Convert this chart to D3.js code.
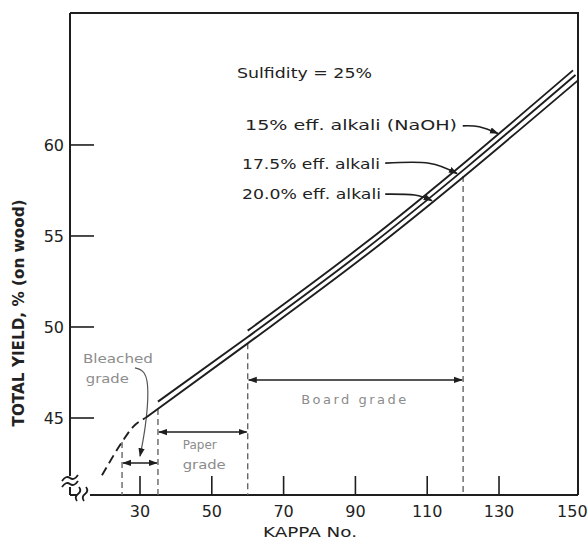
<!DOCTYPE html>
<html>
<head>
<meta charset="utf-8">
<script src="https://cdn.jsdelivr.net/npm/d3@7/dist/d3.min.js"></script>
<style>
  html, body { margin: 0; padding: 0; background: #ffffff; }
  svg { display: block; }
  text { font-family: "DejaVu Sans", "Liberation Sans", sans-serif; fill: #222; }
</style>
</head>
<body>
<svg id="chart" width="588" height="540"></svg>
<script>
// ---------- data ----------
const kappaTicks = [30, 50, 70, 90, 110, 130, 150];
const yieldTicks = [45, 50, 55, 60];

// 20.0 % effective alkali
const kappa20 = [31.5, 60, 92, 152];
const yield20 = [45.0, 49.1, 53.8, 63.55];
// 17.5 % effective alkali
const kappa175 = [35, 60, 92, 151.3];
const yield175 = [45.9, 49.45, 54.15, 63.85];
// 15 % effective alkali (NaOH)
const kappa15 = [60, 92, 150.6];
const yield15 = [49.8, 54.5, 64.1];
// dashed extrapolation below kappa 31
const kappaExt = [19.4, 25, 28, 31.5];
const yieldExt = [41.85, 43.68, 44.5, 45.0];

// grade boundaries (vertical dashed guides) and their top yields
const guideKappa = [25, 35, 60, 120];
const guideTop = [43.68, 45.5, 49.1, 58.3];

// grade ranges
const gradeNames = ["Bleached grade", "Paper grade", "Board grade"];
const gradeFrom = [25, 35, 60];
const gradeTo = [35, 60, 120];
const gradeLevel = [42.53, 44.23, 47.09];

const seriesLabels = ["15% eff. alkali (NaOH)", "17.5% eff. alkali", "20.0% eff. alkali"];
const titleText = "Sulfidity = 25%";

// ---------- scales ----------
const pL = 70, pR = 578, pT = 13, pB = 495;
const x = d3.scaleLinear().domain([10.5, 152]).range([pL, pR]);
const y = d3.scaleLinear().domain([40.77, 67.25]).range([pB, pT]);

const svg = d3.select("#chart");
const ink = "#1e1e1e";

// markers
const defs = svg.append("defs");
defs.append("marker").attr("id", "ah").attr("viewBox", "0 0 10 10")
  .attr("refX", 9).attr("refY", 5).attr("markerWidth", 9).attr("markerHeight", 9)
  .attr("markerUnits", "userSpaceOnUse").attr("orient", "auto-start-reverse")
  .append("path").attr("d", "M0,1.5 L10,5 L0,8.5 Z").attr("fill", ink);

// ---------- frame & axes ----------
const g = svg.append("g");
g.append("path").attr("d", `M${pL},${pT} L${pR},${pT} L${pR},${pB}`)
  .attr("fill", "none").attr("stroke", ink).attr("stroke-width", 2);
g.append("line").attr("x1", pL).attr("x2", pL).attr("y1", pT).attr("y2", pB - 19)
  .attr("stroke", ink).attr("stroke-width", 2);
g.append("line").attr("x1", pL).attr("x2", pL).attr("y1", pB - 8).attr("y2", pB)
  .attr("stroke", ink).attr("stroke-width", 2);
g.append("line").attr("x1", pL).attr("x2", pL + 7).attr("y1", pB).attr("y2", pB)
  .attr("stroke", ink).attr("stroke-width", 2);
g.append("line").attr("x1", pL + 20).attr("x2", pR).attr("y1", pB).attr("y2", pB)
  .attr("stroke", ink).attr("stroke-width", 2);
// break squiggles
[pB - 17, pB - 11].forEach(cy => {
  g.append("path").attr("d", `M${pL - 8},${cy + 3} q4,-6 8,-3 q4,3 8,-3`)
    .attr("fill", "none").attr("stroke", ink).attr("stroke-width", 1.8);
});
[pL + 10, pL + 17].forEach(cx => {
  g.append("path").attr("d", `M${cx - 3},${pB + 6} q-3,-4 1,-7 q4,-3 1,-7`)
    .attr("fill", "none").attr("stroke", ink).attr("stroke-width", 1.8);
});

// ticks (inward)
g.selectAll(".xt").data(kappaTicks.filter(k => k < 150)).join("line")
  .attr("x1", d => x(d)).attr("x2", d => x(d)).attr("y1", pB).attr("y2", pB - 19)
  .attr("stroke", ink).attr("stroke-width", 1.6);
g.selectAll(".yt").data(yieldTicks).join("line")
  .attr("x1", pL).attr("x2", pL + 24).attr("y1", d => y(d)).attr("y2", d => y(d))
  .attr("stroke", ink).attr("stroke-width", 1.6);

// tick labels
g.selectAll(".xl").data(kappaTicks).join("text")
  .attr("x", d => x(d) + (d === 150 ? 1.5 : 0)).attr("y", pB + 22)
  .attr("text-anchor", "middle").attr("font-size", 16).text(d => d);
g.selectAll(".yl").data(yieldTicks).join("text")
  .attr("x", pL - 6).attr("y", d => y(d) + 6)
  .attr("text-anchor", "end").attr("font-size", 16).text(d => d);

// axis titles
g.append("text").attr("x", 310).attr("y", 537).attr("text-anchor", "middle")
  .attr("font-size", 14).attr("textLength", 94).attr("lengthAdjust", "spacingAndGlyphs")
  .text("KAPPA No.");
g.append("text").attr("transform", "translate(24,313) rotate(-90)").attr("text-anchor", "middle")
  .attr("font-size", 15).attr("font-weight", "bold").attr("textLength", 227)
  .attr("lengthAdjust", "spacingAndGlyphs").text("TOTAL YIELD, % (on wood)");

// ---------- guides ----------
g.selectAll(".guide").data(guideKappa).join("line")
  .attr("x1", d => x(d)).attr("x2", d => x(d))
  .attr("y1", (d, i) => y(guideTop[i])).attr("y2", pB)
  .attr("stroke", "#666").attr("stroke-width", 1.4).attr("stroke-dasharray", "6,4");

// grade range arrows
g.selectAll(".range").data(gradeFrom).join("line")
  .attr("x1", (d) => x(d) + 1).attr("x2", (d, i) => x(gradeTo[i]) - 1)
  .attr("y1", (d, i) => y(gradeLevel[i])).attr("y2", (d, i) => y(gradeLevel[i]))
  .attr("stroke", ink).attr("stroke-width", 1.6)
  .attr("marker-start", "url(#ah)").attr("marker-end", "url(#ah)");

// grade labels
const grey = "#8c8c8c";
const gl = g.append("g").attr("font-size", 13);
gl.append("text").attr("x", x(14.1)).attr("y", y(48.0)).style("fill", grey)
  .attr("textLength", 70).attr("lengthAdjust", "spacingAndGlyphs").text("Bleached");
gl.append("text").attr("x", x(14.9)).attr("y", y(46.95)).style("fill", grey)
  .attr("textLength", 43).attr("lengthAdjust", "spacingAndGlyphs").text("grade");
gl.append("text").attr("x", x(41.9)).attr("y", y(43.3)).style("fill", grey)
  .attr("textLength", 34).attr("lengthAdjust", "spacingAndGlyphs").text("Paper");
gl.append("text").attr("x", x(41.9)).attr("y", y(42.2)).style("fill", grey)
  .attr("textLength", 43).attr("lengthAdjust", "spacingAndGlyphs").text("grade");
gl.append("text").attr("x", x(74.9)).attr("y", y(45.75)).style("fill", grey)
  .attr("textLength", 105).attr("lengthAdjust", "spacing").text("Board grade");

// bleached leader
const leader = d3.line().x(d => x(d[0])).y(d => y(d[1])).curve(d3.curveBasis);
g.append("path").datum([[28.6, 47.75], [31.5, 47.6], [32.5, 46.6], [31.6, 44.5], [30.0, 42.9]])
  .attr("d", leader).attr("fill", "none").attr("stroke", "#555").attr("stroke-width", 1.2)
  .attr("marker-end", "url(#ah)");

// ---------- curves ----------
const line = d3.line().x(d => x(d[0])).y(d => y(d[1])).curve(d3.curveMonotoneX);
const zip = (a, b) => a.map((v, i) => [v, b[i]]);
[[kappa20, yield20], [kappa175, yield175], [kappa15, yield15]].forEach(([k, v]) => {
  g.append("path").datum(zip(k, v)).attr("d", line)
    .attr("fill", "none").attr("stroke", ink).attr("stroke-width", 1.9);
});
g.append("path").datum(zip(kappaExt, yieldExt)).attr("d", line)
  .attr("fill", "none").attr("stroke", ink).attr("stroke-width", 1.9)
  .attr("stroke-dasharray", "9,5");

// ---------- labels ----------
g.append("text").attr("x", 237).attr("y", 78).attr("font-size", 14)
  .attr("textLength", 135).attr("lengthAdjust", "spacingAndGlyphs").text(titleText);

const labX = [245, 242, 242];
const labY = [130, 169, 199];
const labW = [212, 138, 139];
g.selectAll(".sl").data(seriesLabels).join("text")
  .attr("x", (d, i) => labX[i]).attr("y", (d, i) => labY[i]).attr("font-size", 14)
  .attr("textLength", (d, i) => labW[i]).attr("lengthAdjust", "spacingAndGlyphs").text(d => d);

// label leaders (kappa, yield)
const leaders = [
  [[119.9, 61.05], [124.5, 61.0], [129.7, 60.63]],
  [[98.3, 59.0], [110.5, 59.0], [118.3, 58.43]],
  [[98.3, 57.3], [106.5, 57.25], [111.3, 56.94]]
];
const leadLine = d3.line().x(d => x(d[0])).y(d => y(d[1])).curve(d3.curveNatural);
leaders.forEach(pts => {
  g.append("path").datum(pts).attr("d", leadLine).attr("fill", "none")
    .attr("stroke", ink).attr("stroke-width", 1.6).attr("marker-end", "url(#ah)");
});
</script>
</body>
</html>
